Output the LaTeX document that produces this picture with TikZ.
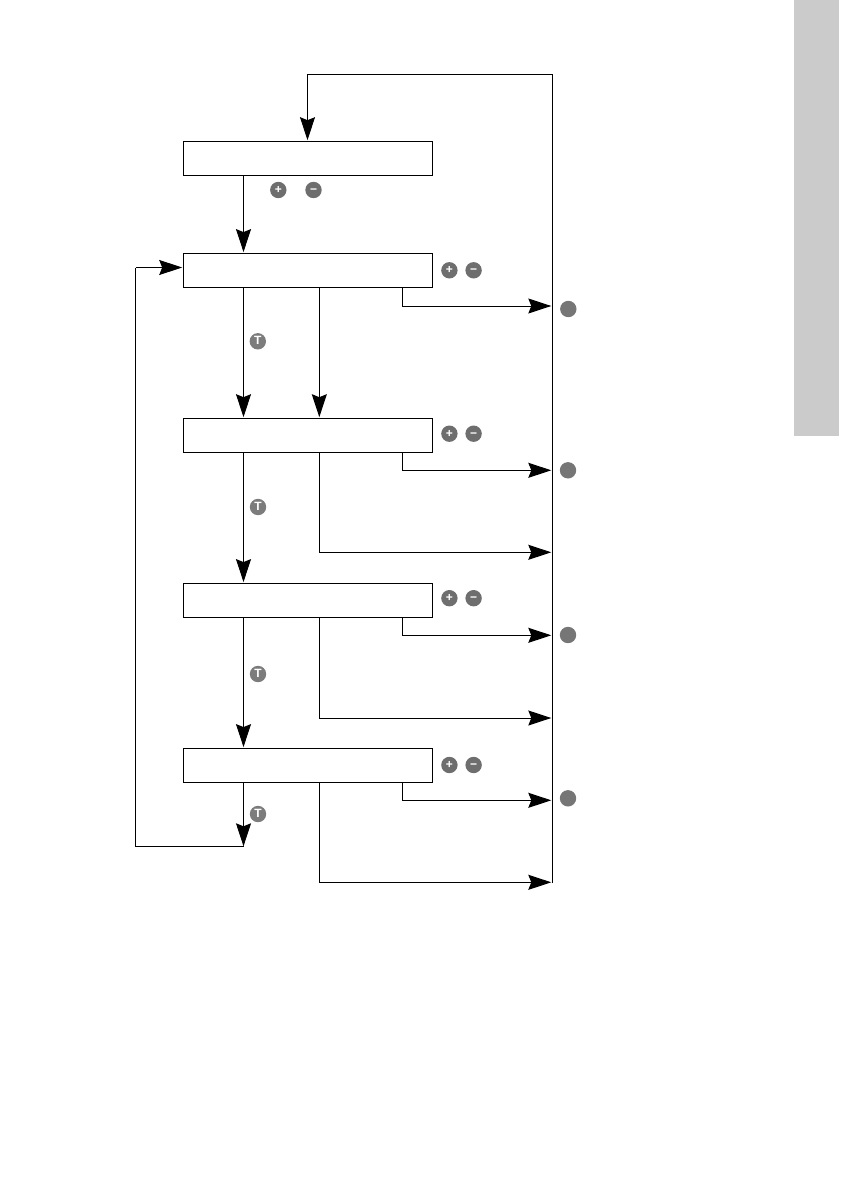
\documentclass[tikz,border=0pt]{standalone}
\usepackage{fontspec}
\setmainfont{Liberation Sans}
\usetikzlibrary{arrows.meta}
\definecolor{tabgray}{HTML}{CBCBCB}
\definecolor{btngray}{HTML}{6E6E6E}
\definecolor{tgray}{HTML}{7C7C7C}
\tikzset{
  flowbox/.style={draw=black,line width=1pt,fill=white,minimum width=249pt,minimum height=34pt,inner sep=0pt,outer sep=0pt},
  btn/.style={circle,fill=btngray,minimum size=16.4pt,inner sep=0pt,text=white,font=\bfseries\fontsize{12}{12}\selectfont,text height=.66em,text depth=0pt},
  tbtn/.style={btn,fill=tgray,font=\bfseries\fontsize{12}{12}\selectfont,text height=.72em},
  stopbtn/.style={btn,fill=tgray!95!black},
  conn/.style={line width=1pt,draw=black},
  flowtip/.style={-{Stealth[length=23pt,width=15pt,inset=3pt]}},
  flowarrow/.style={conn,flowtip,shorten >=1.2pt}
}
\begin{document}
\begin{tikzpicture}[x=1pt,y=-1pt]
\useasboundingbox (0,0) rectangle (840,1190);
\fill[tabgray] (794,0) rectangle (839,435.7);

% boxes
\node[flowbox] (b0) at (307.9,158.4) {};
\node[flowbox] (b1) at (307.9,270.3) {};
\node[flowbox] (b2) at (307.9,435.4) {};
\node[flowbox] (b3) at (307.9,600.3) {};
\node[flowbox] (b4) at (307.9,765.3) {};

% main return line
\coordinate (mainBot) at (552.5,883);
\coordinate (mainTop) at (552.5,74.5);
\coordinate (topL) at (307.5,74.5);
\draw[conn] (mainBot) -- (mainTop) -- (topL);
\draw[flowarrow] (topL) -- (topL |- b0.north);

% down connectors
\coordinate (xa) at (243.5,0);
\coordinate (xb) at (319.3,0);
\coordinate (xc) at (402.4,0);
\draw[flowarrow] (xa |- b0.south) -- (xa |- b1.north);
\draw[flowarrow] (xa |- b1.south) -- (xa |- b2.north);
\draw[flowarrow] (xb |- b1.south) -- (xb |- b2.north);
\draw[flowarrow] (xa |- b2.south) -- (xa |- b3.north);
\draw[flowarrow] (xa |- b3.south) -- (xa |- b4.north);

% feedback loop
\coordinate (fbEnd) at (243.5,846.3);
\coordinate (fbL) at (135.7,846.3);
\coordinate (fbT) at (135.7,267.5);
\draw[conn,flowtip] (xa |- b4.south) -- (fbEnd);
\draw[conn] (fbEnd) -- (fbL) -- (fbT);
\draw[flowarrow] (fbT) -- (b1.west |- fbT);

% right branches (short)
\coordinate (r1) at (552.5,306);
\coordinate (r2) at (552.5,470.3);
\coordinate (r3) at (552.5,635.3);
\coordinate (r4) at (552.5,800.3);
\draw[flowarrow] (xc |- b1.south) |- (r1);
\draw[flowarrow] (xc |- b2.south) |- (r2);
\draw[flowarrow] (xc |- b3.south) |- (r3);
\draw[flowarrow] (xc |- b4.south) |- (r4);

% right branches (long)
\coordinate (s2) at (552.5,552.3);
\coordinate (s3) at (552.5,718);
\coordinate (s4) at (552.5,882.3);
\draw[flowarrow] (xb |- b2.south) |- (s2);
\draw[flowarrow] (xb |- b3.south) |- (s3);
\draw[flowarrow] (xb |- b4.south) |- (s4);

% buttons
\node[btn] (p0) at (278.3,190) {+};
\node[btn] (m0) at (313.5,190) {−};
\node[btn] (p1) at (449.4,270.3) {+};
\node[btn] (m1) at (473.6,270.3) {−};
\node[btn] (p2) at (449.4,433.7) {+};
\node[btn] (m2) at (473.6,433.7) {−};
\node[btn] (p3) at (449.4,598.2) {+};
\node[btn] (m3) at (473.6,598.2) {−};
\node[btn] (p4) at (449.4,765) {+};
\node[btn] (m4) at (473.6,765) {−};
\node[tbtn] (t1) at (257.8,341.3) {T};
\node[tbtn] (t2) at (258,507) {T};
\node[tbtn] (t3) at (258,674) {T};
\node[tbtn] (t4) at (258,814) {T};
\node[stopbtn] (d1) at (568.3,309) {};
\node[stopbtn] (d2) at (568,470.3) {};
\node[stopbtn] (d3) at (568,635) {};
\node[stopbtn] (d4) at (568,798.3) {};
\end{tikzpicture}
\end{document}
